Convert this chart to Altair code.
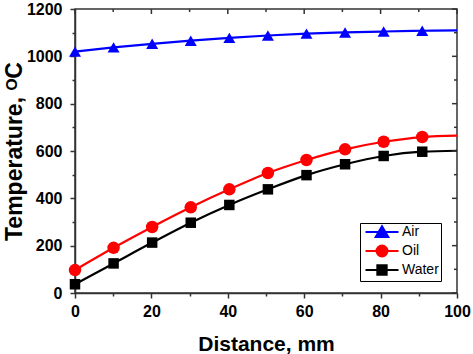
import altair as alt
import pandas as pd

# ---- data ----
series = ["Air", "Oil", "Water"]
colors = ["#0000ff", "#ff0000", "#000000"]
distance = [0, 10.1, 20.2, 30.3, 40.4, 50.5, 60.6, 70.7, 80.8, 90.9, 100]
air = [1020, 1038, 1053, 1066, 1078, 1088, 1096, 1101, 1105, 1108, 1110]
oil = [97, 191, 279, 362, 438, 507, 562, 607, 639, 659, 665]
water = [37, 125, 213, 297, 372, 438, 498, 544, 579, 597, 601]
marker = [True, True, True, True, True, True, True, True, True, True, False]

x_tick_values = [0, 10, 20, 30, 40, 50, 60, 70, 80, 90, 100]
y_tick_values = [0, 100, 200, 300, 400, 500, 600, 700, 800, 900, 1000, 1100, 1200]

rows = []
for name, vals in zip(series, [air, oil, water]):
    for d, v, m in zip(distance, vals, marker):
        rows.append({"series": name, "distance": d, "temp": v, "marker": m})
df = pd.DataFrame(rows)

xt = pd.DataFrame({"v": x_tick_values, "major": [v % 20 == 0 for v in x_tick_values]})
yt = pd.DataFrame({"v": y_tick_values, "major": [v % 200 == 0 for v in y_tick_values]})

FONT = "Liberation Sans"
W, H = 382, 284
AX = "#333333"

x_scale = alt.Scale(domain=[0, 100], nice=False, zero=False)
y_scale = alt.Scale(domain=[0, 1200], nice=False, zero=False)


def tick_size(step):
    return {"condition": {"test": f"datum.value % {step} === 0", "value": 5}, "value": 3}


common_axis = dict(
    grid=False,
    tickWidth=1.5,
    tickColor=AX,
    domainColor=AX,
    domainWidth=1.5,
    labelFont=FONT,
    labelFontSize=16,
    labelFontWeight="bold",
    labelColor="black",
    labelOverlap=False,
    labelFlush=False,
    titleFont=FONT,
    titleFontWeight="bold",
    titleColor="black",
    format="d",
)

x_main = alt.Axis(
    orient="bottom",
    values=x_tick_values,
    labelExpr="datum.value % 20 === 0 ? datum.label : ''",
    tickSize=tick_size(20),
    labelPadding=5,
    title="Distance, mm",
    titleFontSize=21,
    titlePadding=14,
    **common_axis,
)
y_main = alt.Axis(
    orient="left",
    values=y_tick_values,
    labelExpr="datum.value % 200 === 0 ? datum.label : ''",
    tickSize=tick_size(200),
    labelPadding=8,
    title="Temperature, ᴼC",
    titleFontSize=23,
    titlePadding=0,
    **common_axis,
)

base = alt.Chart(df)
X = alt.X("distance:Q", scale=x_scale, axis=x_main)
Y = alt.Y("temp:Q", scale=y_scale, axis=y_main)

layers = []
marker_shapes = {"Air": ("triangle-up", 144), "Oil": ("circle", 156), "Water": ("square", 110)}
for name, col in zip(series, colors):
    layers.append(
        base.transform_filter(alt.datum.series == name)
        .mark_line(color=col, strokeWidth=2.2, interpolate="monotone")
        .encode(x=X, y=Y)
    )
for name, col in zip(series, colors):
    shp, sz = marker_shapes[name]
    layers.append(
        base.transform_filter((alt.datum.series == name) & (alt.datum.marker == True))
        .mark_point(shape=shp, size=sz, filled=True, opacity=1, color=col)
        .encode(x=X, y=Y)
    )

# inward ticks on the top and right frame edges
tx = alt.Chart(xt)
ty = alt.Chart(yt)
rule_style = dict(color=AX, strokeWidth=1.5)
for is_major, ln in [(True, 5), (False, 3)]:
    layers.append(
        tx.transform_filter(alt.datum.major == is_major)
        .mark_rule(**rule_style)
        .encode(x=alt.X("v:Q", scale=x_scale, axis=x_main), y=alt.value(0), y2=alt.value(ln))
    )
    layers.append(
        ty.transform_filter(alt.datum.major == is_major)
        .mark_rule(**rule_style)
        .encode(y=alt.Y("v:Q", scale=y_scale, axis=y_main), x=alt.value(W), x2=alt.value(W - ln))
    )

legend_paths = [
    "M-3,0H3M0,-1.05L1.15,0.9L-1.15,0.9Z",
    "M-3,0H3M1,0A1,1,0,1,1,-1,0A1,1,0,1,1,1,0Z",
    "M-3,0H3M-0.85,-0.85H0.85V0.85H-0.85Z",
]

legend_def = alt.Legend(
    title=None,
    orient="none",
    legendX=285,
    legendY=214,
    fillColor="white",
    strokeColor="black",
    padding=2,
    rowPadding=0,
    labelFont=FONT,
    labelFontSize=14,
    labelFontWeight="normal",
    labelColor="black",
    symbolSize=121,
    symbolStrokeWidth=2,
    symbolOffset=13,
    labelOffset=13,
    symbolOpacity=1,
)

# invisible layer that only carries the legend
layers.append(
    base.mark_point(filled=True, strokeWidth=2, opacity=0)
    .encode(
        x=X,
        y=Y,
        color=alt.Color("series:N", scale=alt.Scale(domain=series, range=colors), legend=legend_def),
        stroke=alt.Stroke("series:N", scale=alt.Scale(domain=series, range=colors), legend=legend_def),
        shape=alt.Shape("series:N", scale=alt.Scale(domain=series, range=legend_paths), legend=legend_def),
    )
)

chart = (
    alt.layer(*layers)
    .properties(
        width=W,
        height=H,
        padding={"left": 75, "top": 9, "right": 16, "bottom": 61},
        autosize=alt.AutoSizeParams(type="none"),
        background="white",
    )
    .configure_view(stroke=AX, strokeWidth=1.5)
)

chart.save("out.html", embed_options={"renderer": "svg", "actions": False})
